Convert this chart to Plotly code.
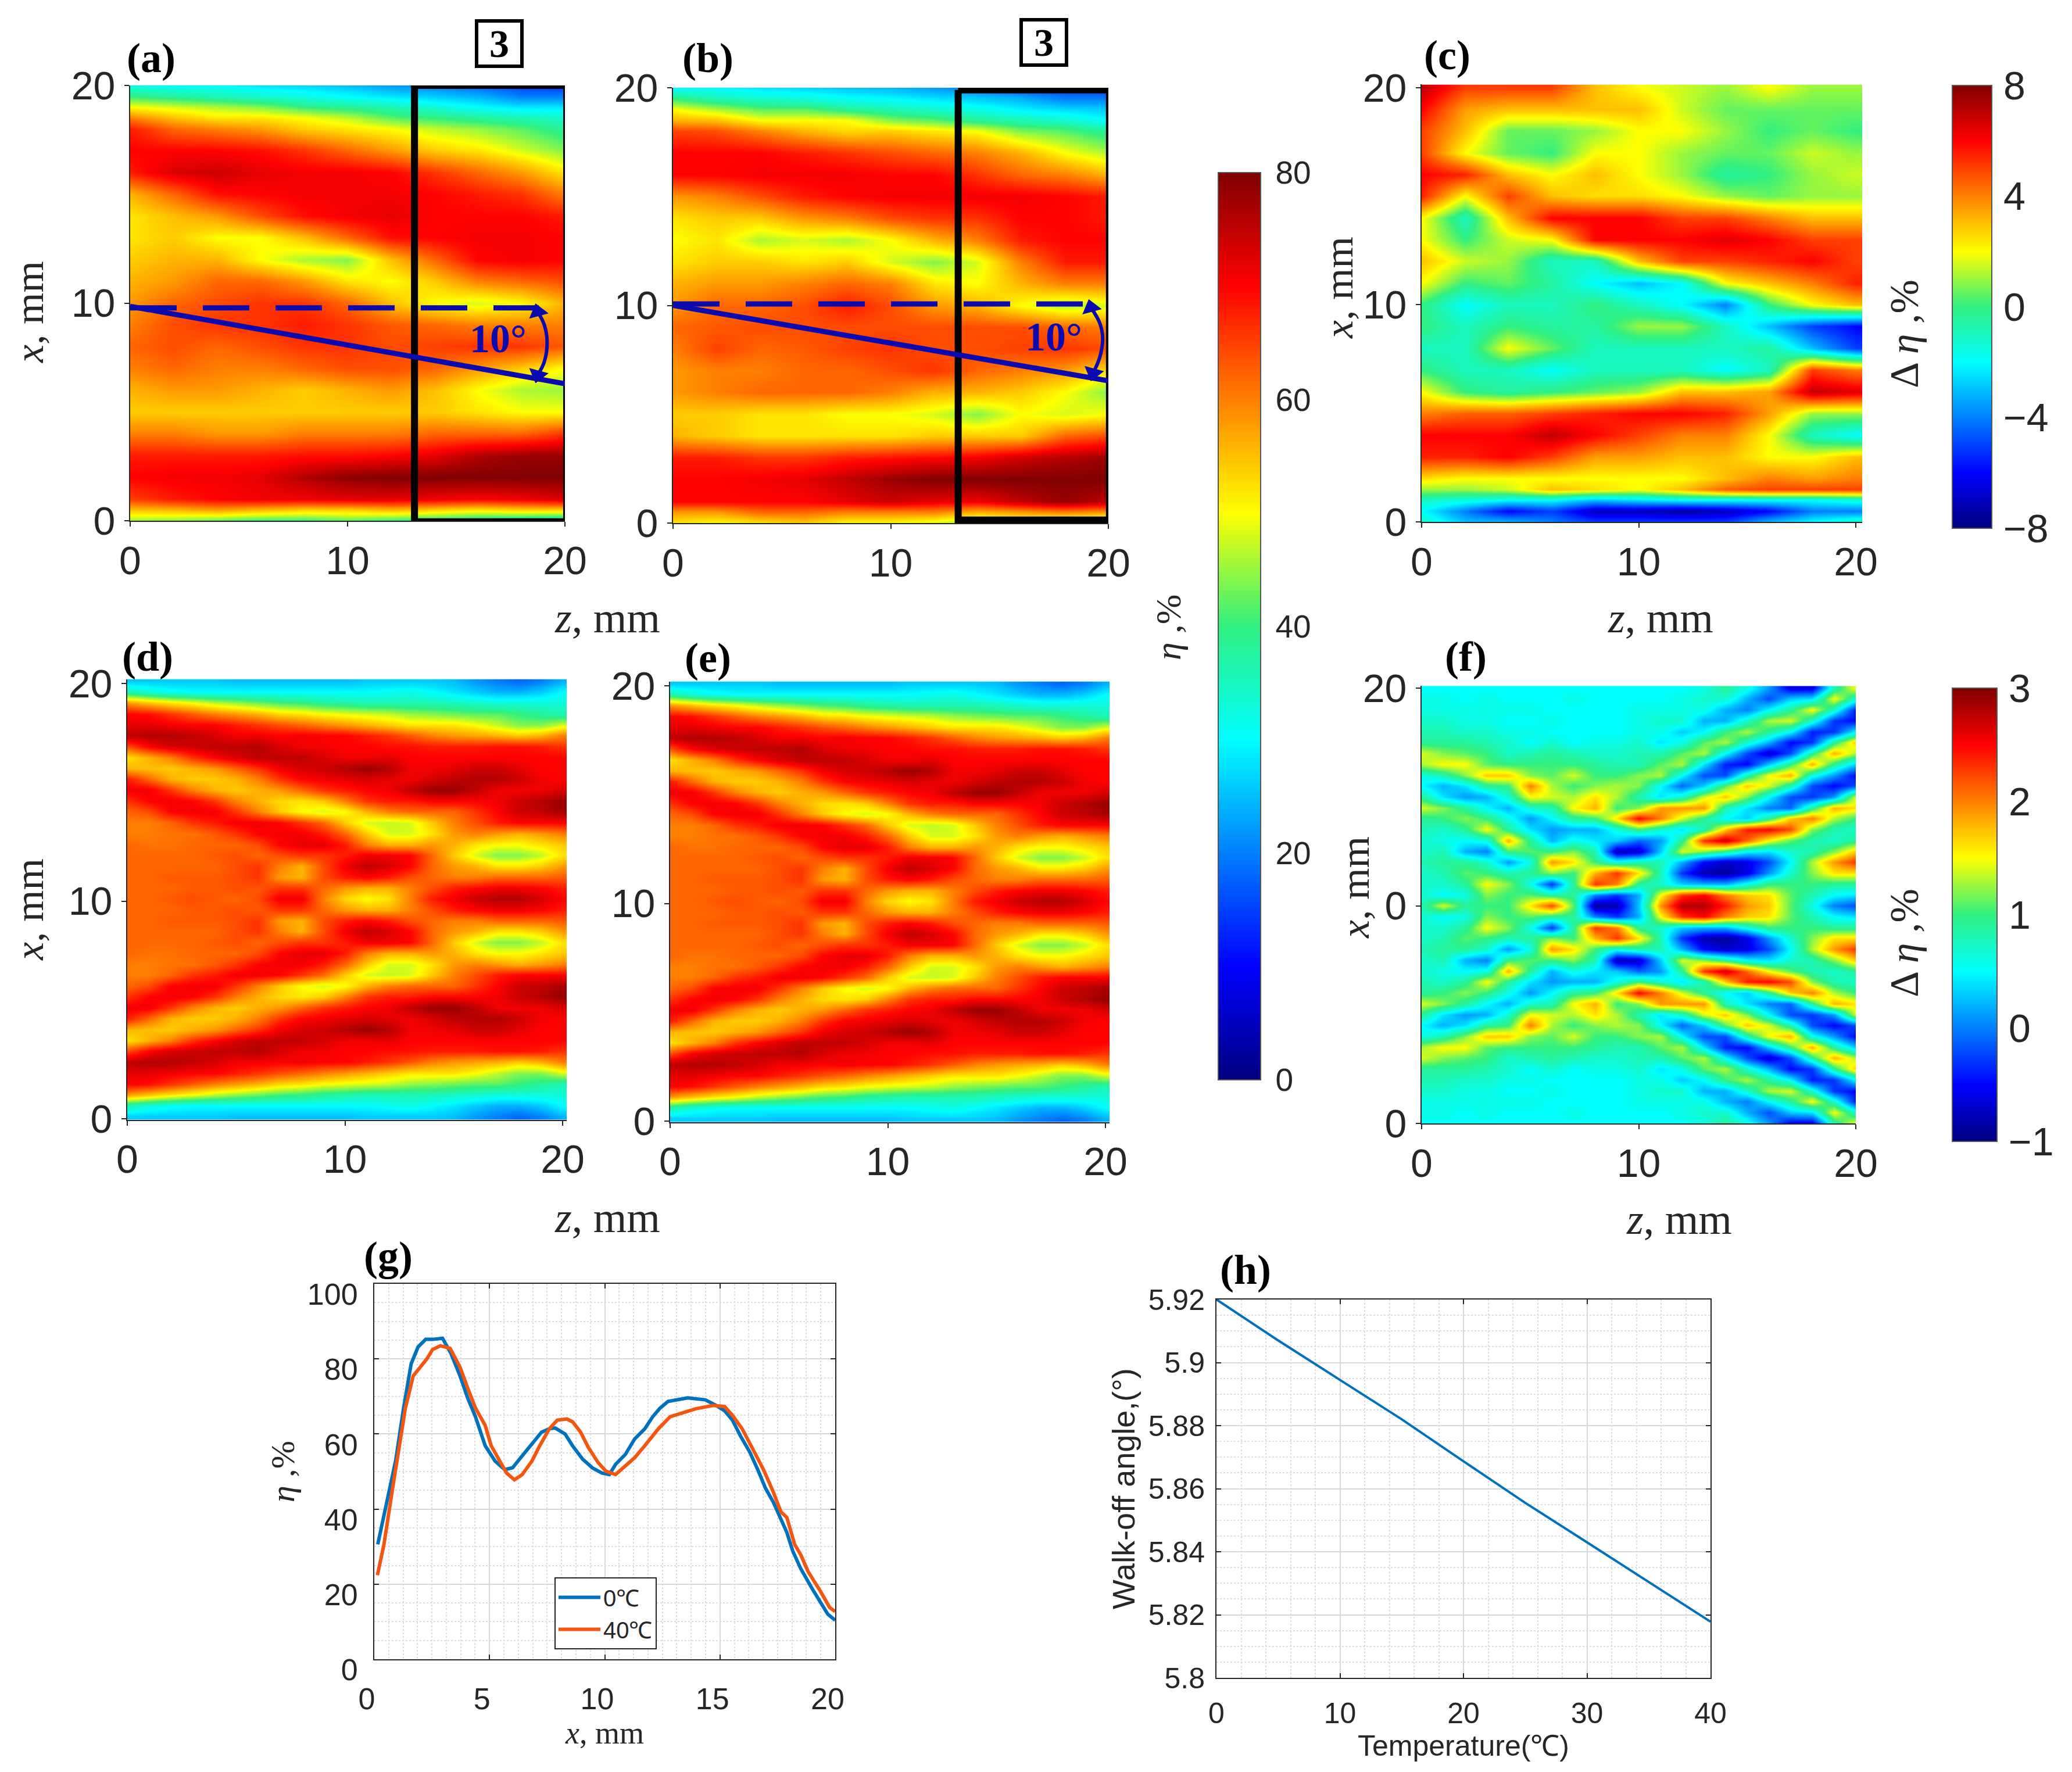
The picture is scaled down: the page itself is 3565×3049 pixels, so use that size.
import plotly.graph_objects as go

W, H = 3565, 3049
SANS = 'Liberation Sans'
SERIF = 'Liberation Serif'
TXT = '#262626'
LINE_BLUE = '#0A0AAF'

JET = [[0, '#00007F'], [0.125, '#0000FF'], [0.375, '#00FFFF'], [0.5, '#30F080'], [0.625, '#FFFF00'],
       [0.875, '#FF0000'], [1, '#7F0000']]

# measured panels, rows go from the top of the picture to the bottom
meas_z = [0, 2, 4, 6, 8, 10, 12, 14, 16, 18, 20]
meas_x = [20, 19.5, 19, 18.5, 18, 17, 16, 15, 14, 13, 12, 11, 10, 9, 8, 7, 6, 5, 4, 3, 2, 1, 0.5, 0]
eta_a = [
    [32, 30, 30, 28, 27, 25, 22, 20, 18, 15, 14],
    [40, 38, 36, 34, 32, 30, 28, 26, 24, 20, 20],
    [50, 48, 46, 44, 40, 38, 36, 33, 30, 28, 28],
    [60, 55, 52, 52, 50, 47, 42, 40, 38, 36, 34],
    [68, 62, 60, 58, 54, 52, 50, 47, 45, 42, 38],
    [70, 70, 70, 69, 66, 62, 58, 54, 52, 48, 44],
    [68, 73, 74, 72, 71, 71, 70, 66, 62, 58, 52],
    [56, 62, 69, 70, 71, 71, 71, 70, 68, 66, 60],
    [52, 55, 58, 64, 69, 71, 72, 70, 70, 70, 68],
    [52, 54, 50, 50, 55, 62, 69, 70, 71, 71, 70],
    [54, 56, 56, 50, 46, 44, 55, 62, 70, 71, 70],
    [56, 58, 62, 62, 58, 52, 50, 54, 60, 62, 64],
    [58, 62, 64, 66, 66, 62, 55, 50, 48, 50, 56],
    [60, 64, 66, 66, 68, 66, 63, 62, 60, 60, 60],
    [62, 64, 62, 64, 66, 66, 64, 65, 66, 66, 63],
    [60, 62, 60, 60, 62, 64, 64, 62, 58, 54, 50],
    [56, 58, 58, 56, 54, 56, 58, 55, 50, 46, 45],
    [54, 54, 54, 54, 54, 54, 54, 54, 52, 50, 50],
    [60, 60, 58, 58, 60, 60, 60, 62, 62, 62, 66],
    [68, 68, 68, 68, 69, 69, 70, 72, 76, 78, 78],
    [70, 71, 71, 72, 76, 79, 80, 80, 80, 80, 80],
    [65, 68, 70, 71, 71, 72, 72, 71, 70, 71, 73],
    [55, 56, 58, 56, 54, 54, 56, 54, 52, 54, 54],
    [45, 44, 42, 40, 40, 42, 40, 38, 36, 34, 32],
]
eta_b = [
    [30, 30, 28, 27, 25, 24, 22, 20, 16, 14, 14],
    [40, 36, 34, 33, 31, 30, 28, 26, 24, 20, 20],
    [50, 46, 42, 42, 38, 36, 34, 32, 29, 27, 26],
    [56, 55, 50, 50, 50, 44, 42, 38, 36, 34, 30],
    [65, 64, 60, 56, 53, 54, 52, 50, 44, 42, 38],
    [70, 70, 70, 68, 66, 64, 62, 60, 56, 50, 46],
    [70, 70, 71, 71, 71, 70, 70, 66, 62, 60, 56],
    [58, 60, 64, 68, 70, 71, 71, 71, 71, 70, 68],
    [52, 54, 54, 58, 60, 64, 66, 66, 70, 70, 68],
    [50, 52, 46, 48, 46, 50, 56, 60, 68, 70, 70],
    [52, 54, 54, 52, 54, 48, 44, 48, 60, 68, 68],
    [56, 58, 58, 60, 62, 60, 52, 50, 56, 60, 60],
    [58, 62, 62, 64, 68, 64, 58, 56, 50, 46, 48],
    [62, 63, 64, 64, 64, 64, 64, 64, 64, 62, 60],
    [60, 65, 62, 63, 65, 66, 64, 64, 65, 66, 64],
    [58, 60, 60, 62, 62, 64, 66, 62, 60, 58, 52],
    [58, 60, 62, 62, 62, 60, 56, 56, 54, 50, 44],
    [54, 54, 52, 52, 50, 50, 48, 44, 50, 48, 50],
    [56, 54, 52, 52, 52, 52, 54, 54, 54, 62, 64],
    [68, 68, 66, 66, 68, 69, 70, 71, 74, 76, 78],
    [70, 70, 71, 72, 75, 78, 80, 80, 80, 80, 80],
    [70, 70, 70, 70, 72, 74, 72, 71, 75, 78, 75],
    [58, 58, 62, 62, 60, 60, 60, 56, 58, 60, 58],
    [52, 50, 52, 54, 50, 50, 48, 44, 46, 44, 42],
]
diff_x = [20, 19, 18, 17, 16, 15, 14, 13, 12, 11, 10, 9, 8, 7, 6, 5, 4, 3, 2, 1.5, 1, 0.5, 0]
diff_c = [
    [7, 5, 5, 5, 3, 2, 1.5, 1, 2, 1, 1],
    [6, 3.5, 3, 3, 3, 3, 1.5, 0.5, 0.5, 0.5, 0.5],
    [5, 3, 0.5, 0.5, 1, 2, 2, 1, 0, 0.5, 0],
    [5, 2, 0.5, 0, 2, 2, 1, 0.5, 0.5, 1.5, 1],
    [6, 5.5, 3, 2, 3, 2, 1, -0.5, 0, 1, 1.5],
    [5.5, 2, 5, 3, 2.5, 2.5, 2, 1, 0.5, 1, 1],
    [2, -1, 3, 6, 6, 6, 5, 5, 4, 3, 3],
    [2, 0, 1.5, 2, 6, 6, 6, 6.5, 6, 5, 5],
    [3, 1.5, 1, -1, -1, 3, 5, 5, 5.5, 6, 5],
    [2, 0, 0.5, -0.5, -2, -3, -2, 2, 3, 4, 5.5],
    [0, -2, -1, -1, 0, -1, -2, -4, 0, 2, 3],
    [0, -1, 0, -0.5, -0.5, 1, 1, -1, -3, -5, -6],
    [-1, -1, 2, 0.5, -1, -1, -1, -1, -0.5, -3, -5],
    [0, -1, -1, -2, -1, -1, -1, -2, -1, 5, 4],
    [2, 0, -0.5, 0, 0.5, 1, 3, 3, 3.5, 7, 6.5],
    [4, 4.5, 4.5, 5, 5.5, 6, 6, 5.5, 3.5, 1, 1],
    [6, 6, 6, 7, 6, 5, 4, 4, 2, -1, -2],
    [5.5, 5.5, 6, 5, 3.5, 3.5, 3, 3, 2, 2, 3],
    [2.5, 2, 2, 2, 2, 2, 2, 3, 4, 3.5, 4],
    [1, 1, 1.5, 3, 2.5, 2, 3, 4.5, 5, 5, 5],
    [-1, -1.5, -2, -2, -3, -2.5, -2, -2, -2, -2, -1.5],
    [-2, -4, -6, -5, -7, -7, -7.5, -7, -6, -4, -4],
    [-1, -3, -3, -4, -5, -5, -5, -5, -3, -2, -1],
]

# simulated panels, upper half read off, the lower half is its mirror image
sim_z = list(range(21))
sim_x_up = [20.1, 19.6, 19.1, 18.6, 18.1, 17.6, 17.1, 16.6, 16.1, 15.6, 15.1, 14.6, 14.1, 13.6, 13.1, 12.6, 12.1,
            11.6, 11.1, 10.6, 10.1]
sim_x_down = [9.6, 9.1, 8.6, 8.1, 7.6, 7.1, 6.6, 6.1, 5.6, 5.1, 4.6, 4.1, 3.6, 3.1, 2.6, 2.1, 1.6, 1.1, 0.6, 0.1]
eta_sim_up = [
    [26, 26, 26, 26, 26, 25, 25, 25, 25, 25, 25, 26, 26, 26, 26, 25, 22, 20, 18, 20, 24],
    [36, 33, 31, 30, 30, 30, 30, 30, 30, 30, 30, 30, 31, 32, 30, 28, 26, 24, 24, 26, 30],
    [58, 55, 52, 50, 47, 45, 43, 41, 40, 38, 37, 36, 36, 36, 36, 35, 34, 33, 33, 33, 33],
    [70, 69, 66, 63, 60, 58, 56, 53, 52, 50, 49, 48, 47, 45, 44, 43, 42, 42, 40, 38, 36],
    [72, 72, 71, 70, 70, 68, 66, 64, 62, 60, 58, 56, 54, 52, 52, 52, 50, 47, 44, 44, 48],
    [75, 76, 76, 75, 73, 71, 71, 70, 71, 70, 70, 68, 66, 63, 60, 58, 57, 56, 54, 56, 60],
    [64, 70, 73, 74, 75, 75, 76, 73, 71, 71, 70, 70, 69, 69, 68, 68, 68, 69, 69, 68, 66],
    [52, 56, 60, 66, 70, 73, 75, 75, 75, 73, 71, 71, 72, 70, 70, 70, 70, 70, 70, 70, 70],
    [56, 55, 54, 56, 58, 62, 66, 71, 73, 74, 76, 78, 76, 71, 71, 72, 74, 74, 72, 70, 70],
    [68, 62, 56, 54, 54, 56, 60, 66, 70, 71, 72, 73, 72, 71, 73, 75, 76, 76, 74, 71, 70],
    [71, 71, 66, 60, 56, 54, 56, 58, 62, 66, 68, 70, 71, 75, 78, 78, 75, 71, 71, 71, 73],
    [66, 70, 71, 70, 66, 60, 56, 53, 52, 54, 60, 66, 68, 68, 70, 70, 70, 71, 74, 76, 78],
    [62, 64, 70, 71, 71, 66, 60, 54, 50, 48, 50, 56, 60, 62, 62, 62, 66, 70, 74, 75, 77],
    [60, 60, 62, 66, 68, 71, 71, 70, 66, 62, 54, 48, 47, 48, 54, 60, 64, 68, 70, 70, 70],
    [60, 60, 61, 61, 63, 66, 70, 71, 71, 68, 62, 54, 48, 48, 52, 58, 60, 58, 56, 58, 60],
    [62, 61, 61, 62, 62, 62, 64, 70, 72, 72, 68, 60, 56, 56, 58, 56, 52, 50, 50, 52, 54],
    [62, 62, 62, 62, 63, 64, 62, 64, 66, 66, 68, 71, 71, 70, 62, 54, 48, 44, 44, 47, 52],
    [62, 62, 62, 62, 62, 64, 66, 60, 56, 64, 71, 75, 73, 70, 62, 58, 56, 52, 52, 54, 58],
    [62, 62, 63, 63, 63, 64, 66, 58, 56, 64, 68, 70, 68, 64, 62, 60, 60, 62, 62, 62, 63],
    [62, 62, 62, 63, 63, 64, 63, 66, 66, 62, 58, 56, 56, 60, 64, 68, 70, 71, 71, 70, 68],
    [62, 62, 63, 64, 63, 62, 64, 71, 71, 60, 53, 50, 52, 60, 68, 71, 74, 76, 76, 73, 70],
]
diff_f_x_up = [20, 19.5, 19, 18.5, 18, 17.5, 17, 16.5, 16, 15.5, 15, 14.5, 14, 13.5, 13, 12.5, 12, 11.5, 11, 10.5, 10]
diff_f_x_down = [9.5, 9, 8.5, 8, 7.5, 7, 6.5, 6, 5.5, 5, 4.5, 4, 3.5, 3, 2.5, 2, 1.5, 1, 0.5, 0]
# one list per z column, from x=20 down to the centre line
diff_f_cols = [
    [.5, .6, .6, .7, .8, .9, 1.4, 1.3, .6, .5, .9, 1.4, .9, .8, .7, .7, .8, .7, .7, .7, .8],
    [.5, .6, .6, .7, .8, .9, 1.2, 1.5, .8, .2, .4, 1.2, 1.0, .7, .6, .8, .9, .8, .7, .5, 1.4],
    [.5, .5, .6, .6, .7, .9, 1.1, 1.5, 1.2, .4, .1, .9, 1.2, .9, .5, .2, .9, 1.1, .9, .6, .9],
    [.5, .6, .6, .6, .7, .8, 1, 1.1, 1.7, .9, .2, .5, 1, 1.5, .6, 0, .7, 1, 1.5, 1.2, 1],
    [.5, .5, .6, .5, .6, .7, .7, 1, 1.7, 1.0, .7, .2, .6, .9, 1.8, 1.0, .1, .8, 1.2, 1, 1],
    [.5, .5, .6, .5, .6, .5, .8, 1, 1.2, 2, 1.5, .7, .1, .4, .9, 1.1, .6, .9, .6, 1.1, 1.6],
    [.5, .5, .5, .6, .5, .7, .9, 1, 1.1, 1.3, 1.4, .8, .5, .1, .2, 1, 1.9, 1.2, -.3, .9, 2.2],
    [.5, .6, .5, .5, .5, .5, .8, 1, 1.4, 1.0, 1.3, 1.5, .9, .2, .6, 1.2, 1.6, 1, .9, .9, 1.1],
    [.5, .5, .5, .5, .5, .6, .7, .9, 1, 1.2, 1.6, 1.8, 1.0, .2, .4, .8, 1, 1.8, 2.3, 0, -.9],
    [.5, .5, .5, .5, .5, .6, .7, .8, 1, 1.3, 1.3, 1, 1.6, .6, .3, -.8, .6, 2.3, 2.0, -.3, -.8],
    [.5, .5, .6, .6, .6, .7, .8, .8, 1.2, 1.2, .8, 1.2, 2.5, 1.0, -.1, -.7, .8, 1.6, .9, .2, .3],
    [.5, .5, .6, .7, .6, .4, .8, 1.1, 1.3, .5, .4, 1.9, 2.0, .7, .1, .3, .8, .8, .7, 1.5, 1.9],
    [.5, .6, .6, .7, .3, .6, 1.1, 1.3, .5, -.1, .7, 1.9, 1.4, .4, .9, 1.4, .2, -.3, .3, 2.3, 2.8],
    [.6, .7, .6, .2, .5, 1.1, 1.3, .4, -.2, .3, 1.4, 1.9, .9, .8, 2.3, 1.2, -.5, -.8, .2, 2.5, 2.8],
    [.9, .7, .2, .2, 1.0, 1.3, .5, -.4, -.2, 1.1, 1.7, .8, .5, 1.7, 2.7, .9, -.7, -.9, .2, 2, 2.4],
    [.6, .2, 0, .7, 1.3, .7, -.2, -.5, .8, 1.7, 1.2, .4, .3, 2.4, 2.1, .5, -.6, -.6, .6, 1.7, 1.9],
    [.1, -.2, .5, 1.3, .9, .2, -.7, .3, 1.5, 1.4, .5, 0, .9, 2.5, 1.5, .4, -.2, .1, 1, 1.6, 1.7],
    [-.6, .3, .9, 1.4, .5, -.5, -.2, 1.0, 1.8, .8, -.2, -.1, 1.7, 2.2, 1.1, .7, .5, .7, 1, 1.1, 1.1],
    [-.6, .4, 1.5, .7, -.4, -.3, .9, 1.8, .6, -.2, -.3, .9, 2.0, 1.2, .8, .8, 1.3, 1.2, 1, .8, .6],
    [.8, 1.5, .7, -.3, -.3, .9, 1.8, .9, .1, -.5, .1, 1.8, 1.3, .8, .7, 1.2, 1.9, 1.6, .9, .5, 0],
    [1.5, .7, -.4, -.5, .5, 1.7, 1.3, .3, -.5, -.2, 1.4, 1.6, 1.0, .7, .9, 1.7, 2.3, 1.6, .9, .4, -.2],
]

# line panels
pos_0c = [0.15, 0.5, 0.93, 1.27, 1.6, 1.9, 2.23, 2.53, 2.96, 3.33, 3.72, 4.05, 4.39, 4.81, 5.24, 5.66, 6.0, 6.42, 6.84,
          7.26, 7.6, 7.85, 8.28, 8.6, 9.04, 9.46, 9.88, 10.2, 10.47, 10.9, 11.3, 11.74, 12.08, 12.4, 12.75, 13.26,
          13.6, 14.36, 14.78, 15.2, 15.54, 15.88, 16.3, 16.64, 16.98, 17.31, 17.57, 17.9, 18.16, 18.5, 19.0, 19.34,
          19.68, 20.0]
eta_0c = [30.6, 41, 53, 66.9, 78.7, 83.2, 85.2, 85.2, 85.5, 81.4, 75.5, 69.6, 64.6, 56.9, 52.8, 50.5, 51, 54.2, 57.4,
          60.5, 61.4, 61.6, 60, 56.9, 53.3, 51, 49.6, 49.2, 51.9, 54.6, 58.7, 61.4, 64.6, 66.9, 68.7, 69.2, 69.6,
          69.1, 67.8, 66.2, 63.7, 59.6, 55.1, 50.5, 45.5, 41.9, 38.3, 33.8, 28.8, 24.2, 18.8, 15.6, 12, 10.4]
pos_40c = [0.135, 0.42, 0.76, 1.01, 1.35, 1.69, 2.03, 2.28, 2.53, 2.87, 3.29, 3.72, 4.05, 4.39, 4.81, 5.07, 5.4, 5.74,
           6.08, 6.42, 6.84, 7.18, 7.6, 7.94, 8.36, 8.61, 8.95, 9.29, 9.71, 10.05, 10.47, 10.9, 11.3, 11.74, 12.33,
           12.84, 13.5, 13.94, 14.7, 15.2, 15.54, 15.96, 16.39, 16.89, 17.31, 17.65, 17.9, 18.24, 18.5, 18.83, 19.34,
           19.76, 20.0]
eta_40c = [22.4, 30.6, 44.2, 53.3, 66.9, 75.5, 78.2, 80, 82.5, 83.5, 82.8, 77.8, 72.3, 66.9, 62.3, 56.9, 53.3, 49.6,
           47.8, 49.2, 52.8, 56.9, 61.4, 63.7, 64, 63.2, 60.5, 56.4, 52.4, 50.1, 49.2, 51.5, 53.7, 56.9, 61.4, 64.6,
           66, 66.7, 67.6, 67.3, 65, 61.4, 56.4, 50.5, 44.6, 39.2, 37.8, 30.6, 27.9, 23.3, 18.3, 13.8, 12.7]
temperature = [0, 5, 10, 15, 20, 25, 30, 35, 40]
walk_off = [5.92, 5.907, 5.8945, 5.882, 5.8687, 5.8555, 5.843, 5.8305, 5.8178]

# overlays on (a) and (b)
a_box_z, a_box_x = [13.08, 20.08, 20.08, 13.08, 13.08], [20, 20, -0.05, -0.05, 20]
b_box_z, b_box_x = [13.1, 20.05, 20.05, 13.1, 13.1], [19.9, 19.9, 0.14, 0.14, 19.9]
a_solid_z, a_solid_x = [0, 20.2], [9.85, 6.26]
b_solid_z, b_solid_x = [0, 20.2], [10, 6.5]
a_dash_z, a_dash_x = [0, 18.8], [9.78, 9.78]
b_dash_z, b_dash_x = [0, 18.9], [10.07, 10.07]
a_arc_z, a_arc_x = [18.75, 19.05, 19.18, 19.05, 18.75], [9.6, 9.0, 8.2, 7.3, 6.7]
b_arc_z, b_arc_x = [19.2, 19.6, 19.74, 19.6, 19.3], [9.9, 9.2, 8.5, 7.6, 6.9]


def mirrored(rows):
    return rows + rows[-2::-1]


diff_f_up = [list(r) for r in zip(*diff_f_cols)]

fig = go.Figure()
layout_axes = {}


def add_axes(x0, x20, y0, y20, xr, yr, xspan=20, yspan=20):
    # x0,x20,y0,y20 are pixel places of the first and last tick
    sx = (x20 - x0) / xspan
    sy = (y0 - y20) / yspan
    dx = [(x0 + sx * xr[0]) / W, (x0 + sx * xr[1]) / W]
    dy = [1 - (y0 - sy * yr[0]) / H, 1 - (y0 - sy * yr[1]) / H]
    return dx, dy


def heat_axes(n, x0, x20, y0, y20, xr, yr, ylabels=('0', '10', '20')):
    dx, dy = add_axes(x0, x20, y0, y20, xr, yr)
    common = dict(showgrid=False, zeroline=False, showline=True, linecolor=TXT, linewidth=2, ticks='outside',
                  ticklen=8, tickcolor=TXT, tickwidth=2, tickfont=dict(family=SANS, size=68, color=TXT))
    layout_axes[f'xaxis{n}'] = dict(domain=dx, range=xr, anchor=f'y{n}', tickvals=[0, 10, 20],
                                    ticktext=['0', '10', '20'], ticklabelstandoff=0, **common)
    layout_axes[f'yaxis{n}'] = dict(domain=dy, range=yr, anchor=f'x{n}', tickvals=[0, 10, 20],
                                    ticktext=list(ylabels), ticklabelstandoff=2, **common)


def heat(n, z, x, y, zmin, zmax, cbar=None):
    fig.add_trace(go.Heatmap(z=z, x=x, y=y, zmin=zmin, zmax=zmax, colorscale=JET, zsmooth='best',
                             showscale=cbar is not None, colorbar=cbar, xaxis=f'x{n}', yaxis=f'y{n}',
                             hoverinfo='skip'))


def cbar(x0, x1, top, bottom, vals, labels, size, gap=6):
    return dict(x=x0 / W, xanchor='left', xref='paper', y=1 - top / H, yanchor='top', yref='paper',
                len=bottom - top, lenmode='pixels', thickness=x1 - x0, thicknessmode='pixels', xpad=0, ypad=0,
                outlinecolor='#555555', outlinewidth=2, tickvals=vals, ticktext=labels, ticks='outside', ticklen=gap,
                tickcolor='rgba(0,0,0,0)', tickfont=dict(family=SANS, size=size, color=TXT))


heat_axes(1, 224, 972, 896, 147, [0, 20], [0, 20])
heat_axes(2, 1158, 1907, 900, 151, [0, 20], [0, 20])
heat_axes(3, 2446, 3193, 898, 151, [0, 20.3], [0, 20.15])
heat_axes(4, 219, 968, 1925, 1176, [0, 20.2], [-0.05, 20.2])
heat_axes(5, 1153, 1902, 1929, 1180, [0, 20.2], [-0.05, 20.2])
heat_axes(6, 2446, 3193, 1933, 1184, [0, 20], [0, 20.1], ylabels=('0', '0', '20'))

heat(1, eta_a, meas_z, meas_x, 0, 80,
     cbar(2096, 2169, 297, 1858, [0, 20, 40, 60, 80], ['0', '20', '40', '60', '80'], 55, gap=14))
heat(2, eta_b, meas_z, meas_x, 0, 80)
heat(3, diff_c, meas_z, diff_x, -8, 8,
     cbar(3359, 3427, 147, 909, [-8, -4, 0, 4, 8], ['\u22128', '\u22124', '0', '4', '8'], 68))
heat(4, mirrored(eta_sim_up), sim_z, sim_x_up + sim_x_down, 0, 80)
heat(5, mirrored(eta_sim_up), sim_z, sim_x_up + sim_x_down, 0, 80)
heat(6, mirrored(diff_f_up), sim_z, diff_f_x_up + diff_f_x_down, -1, 3,
     cbar(3359, 3436, 1184, 1964, [-1, 0, 1, 2, 3], ['\u22121', '0', '1', '2', '3'], 68))


def overlay(n, box_z, box_x, solid_z, solid_x, dash_z, dash_x, arc_z, arc_x):
    ax = dict(xaxis=f'x{n}', yaxis=f'y{n}', showlegend=False, hoverinfo='skip', cliponaxis=False)
    fig.add_trace(go.Scatter(x=dash_z, y=dash_x, mode='lines', line=dict(color=LINE_BLUE, width=9, dash='80px,45px'),
                             **ax))
    fig.add_trace(go.Scatter(x=box_z, y=box_x, mode='lines', line=dict(color='black', width=12), **ax))
    fig.add_trace(go.Scatter(x=solid_z, y=solid_x, mode='lines', line=dict(color=LINE_BLUE, width=9), **ax))
    fig.add_trace(go.Scatter(x=arc_z, y=arc_x, mode='lines', line=dict(color=LINE_BLUE, width=6, shape='spline'), **ax))
    fig.add_trace(go.Scatter(x=[arc_z[0], arc_z[-1]], y=[arc_x[0], arc_x[-1]], mode='markers',
                             marker=dict(symbol=['triangle-up', 'triangle-down'], angle=[-15, 15], size=30,
                                         color=LINE_BLUE), **ax))


overlay(1, a_box_z, a_box_x, a_solid_z, a_solid_x, a_dash_z, a_dash_x, a_arc_z, a_arc_x)
overlay(2, b_box_z, b_box_x, b_solid_z, b_solid_x, b_dash_z, b_dash_x, b_arc_z, b_arc_x)

# (g)
dx, dy = add_axes(644, 1437, 2855, 2209, [0, 20], [0, 100], yspan=100)
line_axis = dict(showline=True, linecolor=TXT, linewidth=2, mirror='ticks', ticks='inside', ticklen=8, tickcolor=TXT,
                 tickwidth=2, zeroline=False, showgrid=True, gridcolor='#D9D9D9', gridwidth=2)
layout_axes['xaxis7'] = dict(domain=dx, range=[0, 20], anchor='y7', dtick=5, ticklabelshift=-13, ticklabelstandoff=22,
                             tickfont=dict(family=SANS, size=52, color=TXT),
                             title=dict(text='<i>x</i>, mm', font=dict(family=SERIF, size=54, color=TXT), standoff=2),
                             minor=dict(dtick=0.625, showgrid=True, gridcolor='#DDDDDD', griddash='dot', gridwidth=2),
                             **line_axis)
layout_axes['yaxis7'] = dict(domain=dy, range=[0, 100], anchor='x7', dtick=20, ticklabelshift=18, ticklabelstandoff=16,
                             tickfont=dict(family=SANS, size=52, color=TXT),
                             title=dict(text='<i>\u03b7</i> ,%', font=dict(family=SERIF, size=58, color=TXT), standoff=4),
                             minor=dict(dtick=5, showgrid=True, gridcolor='#DDDDDD', griddash='dot', gridwidth=2),
                             **line_axis)
fig.add_trace(go.Scatter(x=pos_0c, y=eta_0c, mode='lines', name='0\u2103', line=dict(color='#0072BD', width=6),
                         xaxis='x7', yaxis='y7'))
fig.add_trace(go.Scatter(x=pos_40c, y=eta_40c, mode='lines', name='40\u2103', line=dict(color='#F4560F', width=6),
                         xaxis='x7', yaxis='y7'))

# (h)
layout_axes['xaxis8'] = dict(domain=[2093 / W, 2943 / W], range=[0, 40], anchor='y8', dtick=10, ticklabelstandoff=16,
                             tickfont=dict(family=SANS, size=50, color=TXT),
                             title=dict(text='Temperature(\u2103)', font=dict(family=SANS, size=50, color=TXT), standoff=8),
                             minor=dict(dtick=2, showgrid=True, gridcolor='#DDDDDD', griddash='dot', gridwidth=2),
                             **line_axis)
layout_axes['yaxis8'] = dict(domain=[1 - 2887 / H, 1 - 2236 / H], range=[5.8, 5.92], anchor='x8',
                             tickvals=[5.8, 5.82, 5.84, 5.86, 5.88, 5.9, 5.92],
                             ticktext=['5.8', '5.82', '5.84', '5.86', '5.88', '5.9', '5.92'], ticklabelstandoff=8,
                             tickfont=dict(family=SANS, size=50, color=TXT),
                             title=dict(text='Walk-off angle,(\u00b0)', font=dict(family=SANS, size=54, color=TXT), standoff=6),
                             minor=dict(dtick=0.005, showgrid=True, gridcolor='#DDDDDD', griddash='dot', gridwidth=2),
                             **line_axis)
fig.add_trace(go.Scatter(x=temperature, y=walk_off, mode='lines', showlegend=False, line=dict(color='#0072BD', width=4),
                         xaxis='x8', yaxis='y8'))


def note(text, px, py, size=66, family=SERIF, color=TXT, angle=0, **kw):
    fig.add_annotation(text=text, x=px / W, y=1 - py / H, xref='paper', yref='paper', xanchor='center', yanchor='middle',
                       showarrow=False, textangle=angle, font=dict(family=family, size=size, color=color), **kw)


for text, px, py in [('(a)', 260, 100), ('(b)', 1218, 100), ('(c)', 2490, 95), ('(d)', 254, 1130), ('(e)', 1218, 1132),
                     ('(f)', 2522, 1130), ('(g)', 668, 2162), ('(h)', 2143, 2185)]:
    note(f'<b>{text}</b>', px, py, size=72, color='black')

for px, py in [(1045, 1063), (2857, 1063), (1045, 2095), (2889, 2098)]:
    note('<i>z</i>, mm', px, py, size=74)
for px, py in [(50, 537), (2304, 495), (50, 1565), (2332, 1527)]:
    note('<i>x</i>, mm', px, py, size=70, angle=-90)
note('<i>\u03b7</i> ,%', 2010, 1080, size=62, angle=-90)
note('\u0394 <i>\u03b7</i> ,%', 3276, 575, size=70, angle=-90)
note('\u0394 <i>\u03b7</i> ,%', 3276, 1623, size=70, angle=-90)
for px, py in [(859, 75), (1796, 73)]:
    note('<b>3</b>', px, py, size=68, color='black', bordercolor='black', borderwidth=6, borderpad=0, width=72, height=72,
         align='center', valign='middle', bgcolor='white')

# 10 degree labels sit on the data axes
for ax_n, z_pos, x_pos in [(1, 16.93, 8.38), (2, 17.5, 8.55)]:
    fig.add_annotation(text='<b>10\u00b0</b>', x=z_pos, y=x_pos, xref=f'x{ax_n}', yref=f'y{ax_n}', showarrow=False,
                       font=dict(family=SERIF, size=70, color=LINE_BLUE))

fig.update_layout(width=W, height=H, autosize=False, margin=dict(l=0, r=0, t=0, b=0, autoexpand=False),
                  paper_bgcolor='white', plot_bgcolor='white', showlegend=True,
                  legend=dict(x=954 / W, y=1 - 2714 / H, xanchor='left', yanchor='top', bgcolor='white',
                              bordercolor='#222222', borderwidth=2, itemwidth=72, tracegroupgap=0,
                              font=dict(family=SANS, size=40, color=TXT)),
                  **layout_axes)

fig.write_html('out.html', config=dict(displayModeBar=False), post_script="document.body.style.margin='0';")
